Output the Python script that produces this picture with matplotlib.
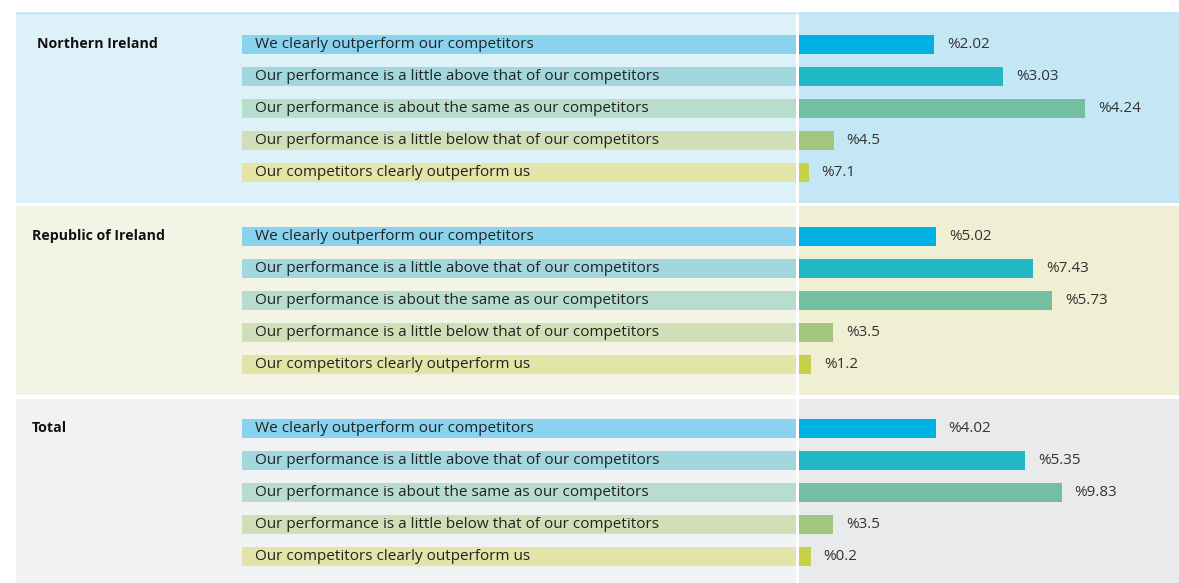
import matplotlib
matplotlib.use("Agg")
import matplotlib.pyplot as plt
from matplotlib.patches import Rectangle

plt.rcParams['font.family'] = ['Open Sans', 'DejaVu Sans']

regions = ["Northern Ireland", "Republic of Ireland", "Total"]
categories = [
    "We clearly outperform our competitors",
    "Our performance is a little above that of our competitors",
    "Our performance is about the same as our competitors",
    "Our performance is a little below that of our competitors",
    "Our competitors clearly outperform us",
]
ni_values = [20.2, 30.3, 42.4, 5.4, 1.7]
roi_values = [20.5, 34.7, 37.5, 5.3, 2.1]
total_values = [20.4, 33.5, 38.9, 5.3, 2.0]
ni_labels = ["%2.02", "%3.03", "%4.24", "%4.5", "%7.1"]
roi_labels = ["%5.02", "%7.43", "%5.73", "%3.5", "%1.2"]
total_labels = ["%4.02", "%5.35", "%9.83", "%3.5", "%0.2"]

values = [ni_values, roi_values, total_values]
labels = [ni_labels, roi_labels, total_labels]

bar_colors = ["#00B2E3", "#22B7C4", "#72BFA2", "#A2C67D", "#C8D04A"]
label_colors = ["#89D3EF", "#A1D7DD", "#B8DDCD", "#D1DFB8", "#E3E4A8"]
panel_left = ["#DDF1F9", "#F4F4E6", "#F1F2F4"]
panel_right = ["#C4E7F6", "#EEEFD3", "#E9EAEC"]

W, H = 1179, 583
fig = plt.figure(figsize=(W / 100, H / 100), dpi=100)
ax = fig.add_axes([0, 0, 1, 1])
ax.set_axis_off()

# pixel -> data mapping: zero at px 797, 6.8 px per percent; rows 32 px apart, first row at px 44
x0px, scale = 797.0, 6.8
ax.set_xlim((0 - x0px) / scale, (W - x0px) / scale)
ax.set_ylim((H - 44) / 32.0, (0 - 44) / 32.0)

def px(x):
    return (x - x0px) / scale

def py(y):
    return (y - 44) / 32.0

panel_px = [(12, 203), (206, 395), (399, 583)]
bar_h = 19 / 32.0

for k in range(3):
    top, bot = panel_px[k]
    ax.add_patch(Rectangle((px(16), py(top)), px(796) - px(16), py(bot) - py(top),
                           facecolor=panel_left[k], edgecolor='none', zorder=0))
    ax.add_patch(Rectangle((px(799), py(top)), px(W) - px(799), py(bot) - py(top),
                           facecolor=panel_right[k], edgecolor='none', zorder=0))
    base = 6 * k
    rows = [base + j for j in range(5)]
    # label band
    ax.barh(rows, [px(796) - px(242)] * 5, left=px(242), height=bar_h,
            color=label_colors, zorder=1)
    for j, r in enumerate(rows):
        ax.text(px(255), r, categories[j], ha='left', va='center',
                fontsize=11, color='#222222', zorder=3)
    # value bars (start at zero, partly hidden under the white divider)
    ax.barh(rows, values[k], left=0, height=bar_h, color=bar_colors, zorder=2)
    for j, r in enumerate(rows):
        ax.text(values[k][j] + 13 / scale, r, labels[k][j], ha='left',
                va='center', fontsize=11, color='#333333', zorder=3)
    title_x = 37 if k == 0 else 32
    ax.text(px(title_x), rows[0], regions[k], ha='left', va='center',
            fontsize=10.2, fontweight='bold', color='#111111', zorder=3)

# white divider between label and value areas
ax.add_patch(Rectangle((px(796), py(0)), px(799) - px(796), py(H) - py(0),
                       facecolor='white', edgecolor='none', zorder=2.5))
# thin top border line
ax.plot([px(16), px(W)], [py(12.5), py(12.5)], color='#BDE3F4', lw=1, zorder=2.6)

fig.savefig("out.png", dpi=100, facecolor='white')
